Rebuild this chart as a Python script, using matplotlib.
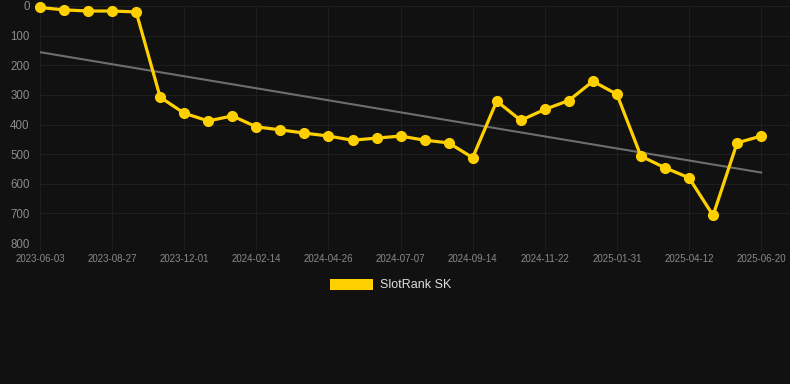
import matplotlib
matplotlib.use("Agg")
import matplotlib.pyplot as plt
import numpy as np
from matplotlib.patches import Patch

plt.rcParams['font.family'] = ['Liberation Sans', 'DejaVu Sans']

tick_labels = ["2023-06-03", "2023-08-27", "2023-12-01", "2024-02-14", "2024-04-26",
               "2024-07-07", "2024-09-14", "2024-11-22", "2025-01-31", "2025-04-12",
               "2025-06-20"]
ranks = [5, 13, 17, 17, 20, 308, 362, 388, 371, 408, 418, 429, 439, 453, 446, 439,
         453, 462, 512, 321, 386, 349, 319, 254, 298, 507, 546, 580, 707, 462, 439]
series_name = "SlotRank SK"

BG = "#111111"
YELLOW = "#FFD000"

fig = plt.figure(figsize=(7.9, 3.84), dpi=100, facecolor=BG)
ax = fig.add_axes([40/790, 1-243/384, 1-40/790, (243-6)/384])
ax.set_facecolor(BG)

x = np.arange(len(ranks))
# trend line (linear fit of the data)
coef = np.polyfit(x, ranks, 1)
ax.plot(x, np.polyval(coef, x), color="#6e6e6e", lw=1.5, zorder=2)
ax.plot(x, ranks, color=YELLOW, lw=2.3, marker="o", ms=7, zorder=3, clip_on=False)

ax.set_ylim(800, 0)
ax.set_xlim(0, 31.2)
ax.set_yticks(range(0, 801, 100))
ax.set_xticks(x[::3])
ax.set_xticklabels(tick_labels)
ax.grid(True, color="#1f1f1f", lw=0.8)
for s in ax.spines.values():
    s.set_visible(False)
ax.axhline(800, color="#2e2e2e", lw=0.8)
ax.tick_params(axis="y", length=0, colors="#8a8a8a", labelsize=8.3, pad=7.5)
ax.tick_params(axis="x", length=5, color="#1f1f1f", colors="#8a8a8a", labelsize=7, pad=3)

fig.legend(handles=[Patch(facecolor=YELLOW, label=series_name)],
           loc="center", bbox_to_anchor=(0.495, 1-285/384), frameon=False,
           labelcolor="#dddddd", fontsize=9, handlelength=3.4, handleheight=1.0,
           handletextpad=0.6)

fig.savefig("out.png", dpi=100, facecolor=BG)
